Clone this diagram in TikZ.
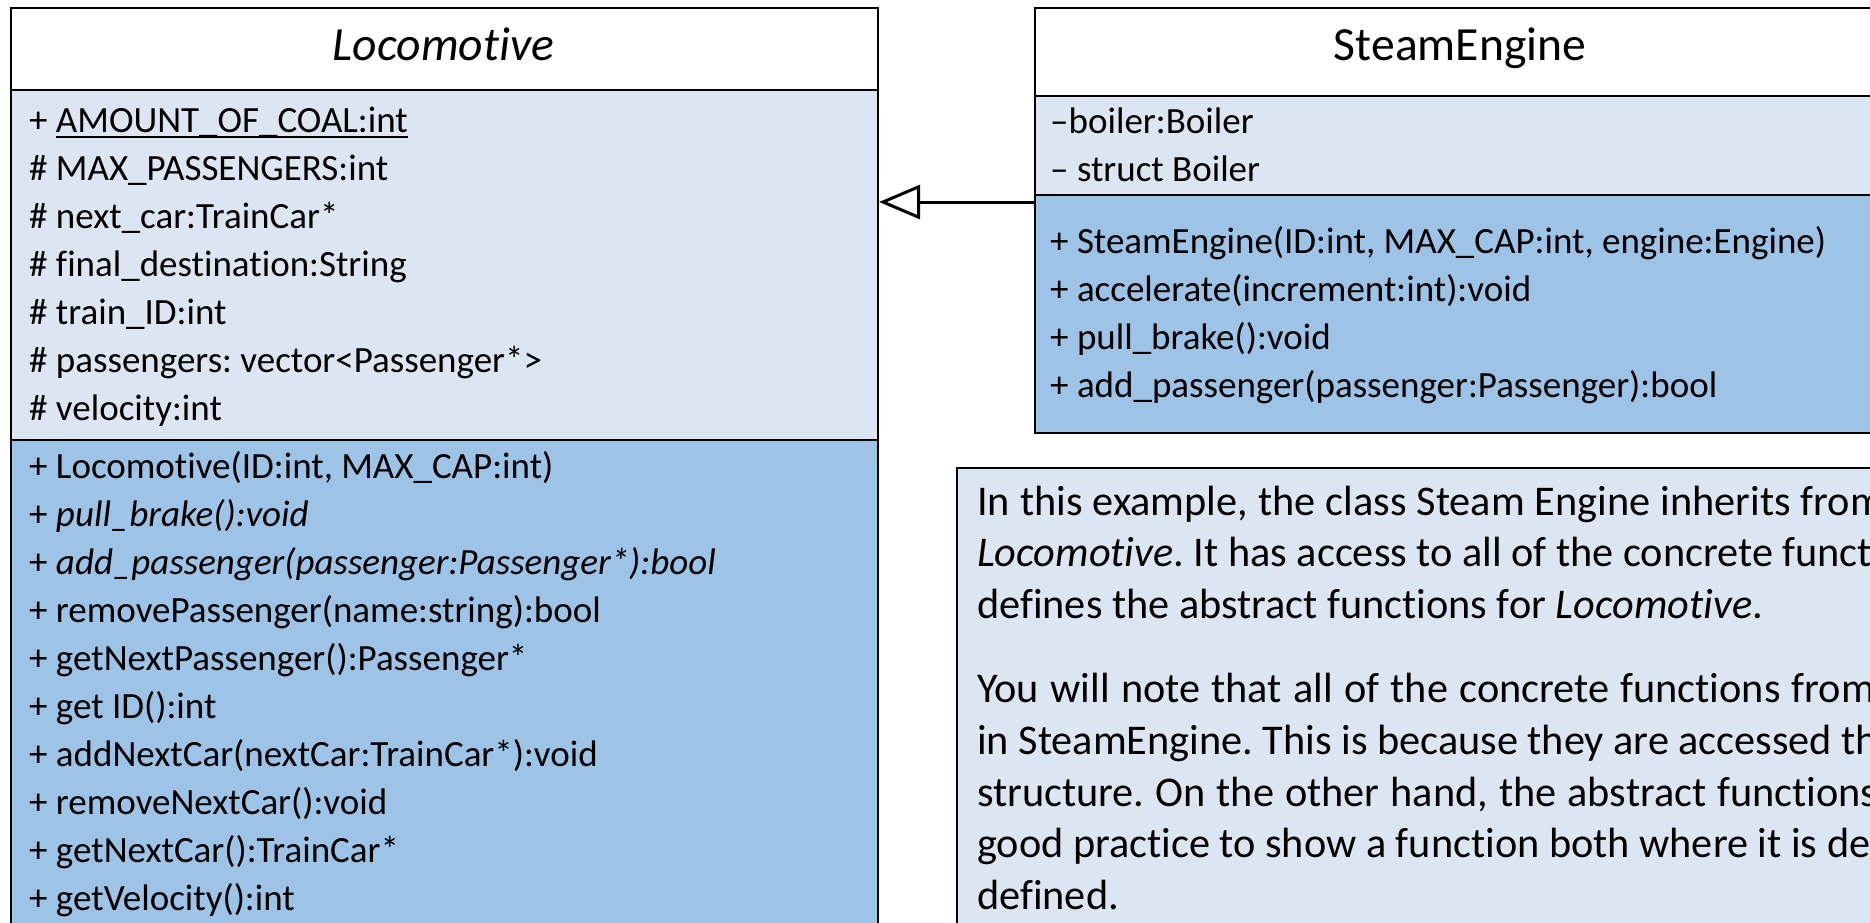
\documentclass[tikz,border=0pt]{standalone}
\usepackage{fontspec}
\setmainfont{Carlito}[Ligatures=NoCommon]
\usetikzlibrary{arrows.meta}
\definecolor{boxlight}{HTML}{DCE6F2}
\definecolor{boxdark}{HTML}{9DC3E6}
\def\bodyfont{\fontsize{37}{48}\selectfont}
\def\headfont{\fontsize{47.6}{58}\selectfont}
\def\notefont{\fontsize{42.3}{51.6}\selectfont}
\def\staticattr#1{{\setbox0\hbox{#1}\rlap{\rule[-6.2pt]{\wd0}{2.5pt}}\box0}}
\frenchspacing
\tikzset{
	part/.style={draw=black, line width=2pt, anchor=north west, inner sep=0pt},
	row/.style={anchor=base west, inner sep=0pt, font=\bodyfont},
	noterow/.style={anchor=base west, inner sep=0pt, font=\notefont},
	heading/.style={anchor=base, inner sep=0pt, font=\headfont},
	inherit/.style={line width=3pt, -{Triangle[open, length=41pt, width=34pt]}}
}

\begin{document}
\begin{tikzpicture}[x=1pt, y=-1pt]
			%%%%% START %%%%%
			\useasboundingbox (0, 0) rectangle (1870, 922);
			\clip (0, 0) rectangle (1870, 922);
			
			% Locomotive
			\node[part, fill=white, minimum width=867pt, minimum height=82pt] (locohead) at (10, 7) {};
			\node[part, fill=boxlight, minimum width=867pt, minimum height=350pt] (locoattr) at (10, 89) {};
			\node[part, fill=boxdark, minimum width=867pt, minimum height=520pt] (locoops) at (10, 439) {};
			\node[heading] (loconame) at (443.5, 60) {\textit{Locomotive}};
			
			\node[row] (la1) at (29, 132) {+ \staticattr{AMOUNT\_OF\_COAL:int}};
			\node[row] (la2) at (29, 180) {\# MAX\_PASSENGERS:int};
			\node[row] (la3) at (29, 228) {\# next\_car:TrainCar*};
			\node[row] (la4) at (29, 276) {\# final\_destination:String};
			\node[row] (la5) at (29, 324) {\# train\_ID:int};
			\node[row] (la6) at (29, 372) {\# passengers: vector<Passenger*>};
			\node[row] (la7) at (29, 420) {\# velocity:int};
			
			\node[row] (lm1) at (29, 478) {+ Locomotive(ID:int, MAX\_CAP:int)};
			\node[row] (lm2) at (29, 526) {+ \textit{pull\_brake():void}};
			\node[row] (lm3) at (29, 574) {+ \textit{add\_passenger(passenger:Passenger*):bool}};
			\node[row] (lm4) at (29, 622) {+ removePassenger(name:string):bool};
			\node[row] (lm5) at (29, 670) {+ getNextPassenger():Passenger*};
			\node[row] (lm6) at (29, 718) {+ get ID():int};
			\node[row] (lm7) at (29, 766) {+ addNextCar(nextCar:TrainCar*):void};
			\node[row] (lm8) at (29, 814) {+ removeNextCar():void};
			\node[row] (lm9) at (29, 862) {+ getNextCar():TrainCar*};
			\node[row] (lm10) at (29, 910) {+ getVelocity():int};
			
			% SteamEngine
			\node[part, fill=white, minimum width=852pt, minimum height=88pt] (steamhead) at (1034, 7) {};
			\node[part, fill=boxlight, minimum width=852pt, minimum height=99pt] (steamattr) at (1034, 95) {};
			\node[part, fill=boxdark, minimum width=852pt, minimum height=238pt] (steamops) at (1034, 194) {};
			\node[heading] (steamname) at (1460, 60) {SteamEngine};
			
			\node[row] (sa1) at (1050, 133) {–boiler:Boiler};
			\node[row] (sa2) at (1050, 181) {– struct Boiler};
			
			\node[row] (sm1) at (1050, 253) {+ SteamEngine(ID:int, MAX\_CAP:int, engine:Engine)};
			\node[row] (sm2) at (1050, 301) {+ accelerate(increment:int):void};
			\node[row] (sm3) at (1050, 349) {+ pull\_brake():void};
			\node[row] (sm4) at (1050, 397) {+ add\_passenger(passenger:Passenger):bool};
			
			% inheritance
			\coordinate (tail) at ([yshift=-8pt]steamops.north west);
			\draw[inherit] (tail) -- (tail -| locoattr.east);
			
			% note
			\node[part, line width=1.5pt, fill=boxlight, minimum width=950pt, minimum height=480pt] (note) at (956, 467) {};
			\node[noterow] (t1) at (977, 515) {\spaceskip=10pt In this example, the class Steam Engine inherits from};
			\node[noterow] (t2) at (977, 566.6) {\textit{Locomotive}. It has access to all of the concrete functions};
			\node[noterow] (t3) at (977, 618.2) {defines the abstract functions for \textit{Locomotive}.};
			\node[noterow] (t4) at (977, 702.8) {\spaceskip=11.3pt You will note that all of the concrete functions from};
			\node[noterow] (t5) at (977, 754.4) {in SteamEngine. This is because they are accessed through};
			\node[noterow] (t6) at (977, 806) {\spaceskip=11pt structure. On the other hand, the abstract functions};
			\node[noterow] (t7) at (977, 857.6) {good practice to show a function both where it is declared};
			\node[noterow] (t8) at (977, 909.2) {defined.};
			
			%%%%% END %%%%%
\end{tikzpicture}
\end{document}
